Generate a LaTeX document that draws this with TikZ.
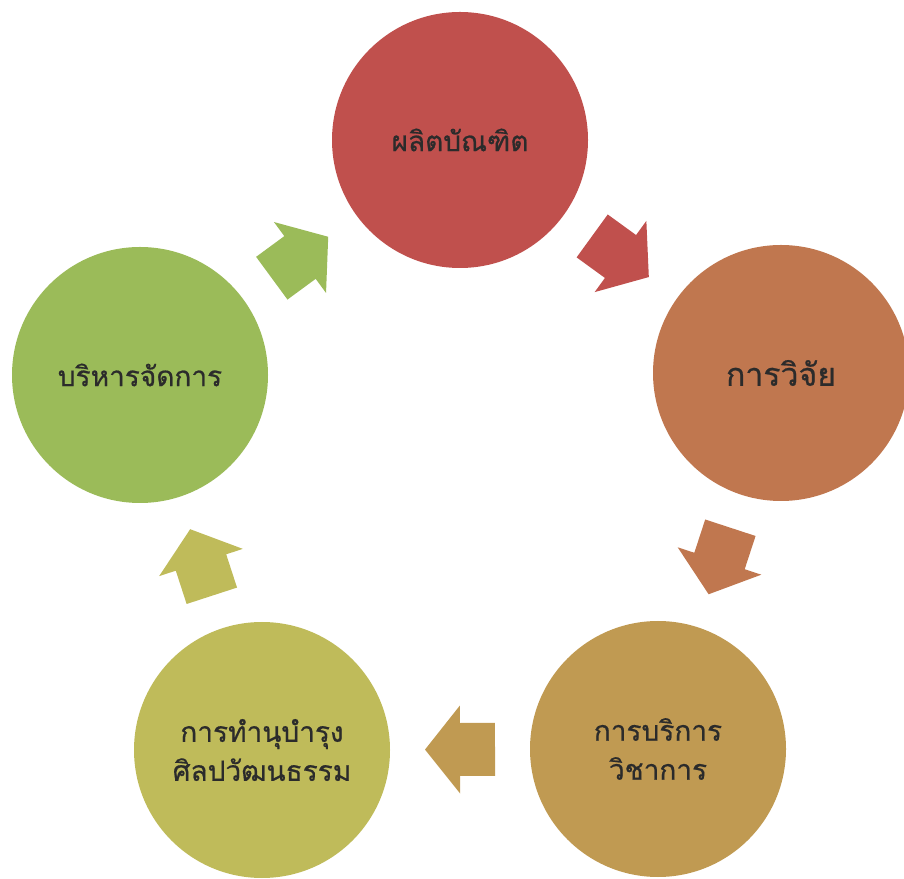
\documentclass[tikz,border=0pt]{standalone}
\usepackage{fontspec}
\newfontfamily\thaifont[Script=Thai,FakeBold=0.6]{Loma}
\usetikzlibrary{calc}
\definecolor{cRed}{HTML}{C0504D}
\definecolor{cOrange}{HTML}{C0774F}
\definecolor{cTan}{HTML}{C09A52}
\definecolor{cOlive}{HTML}{BFBB5A}
\definecolor{cGreen}{HTML}{9BBB59}
\definecolor{cText}{HTML}{2B2B2B}
\tikzset{
  x=1pt,y=1pt,
  bubble/.style={circle,minimum size=256pt,inner sep=0pt,draw=none,
    text=cText,align=center,font={\thaifont\fontsize{28}{39}\selectfont}},
  blockarrow/.style={draw=none}
}
\newcommand{\cycarrow}[3]{%
  \path let \p1=($(#2)-(#1)$), \n1={atan2(\y1,\x1)} in
    [shift={($(#1)!0.5!(#2)$)}, rotate=\n1]
    [fill=#3] (-35,-26.5) -- (0,-26.5) -- (0,-44) -- (35,0) -- (0,44) -- (0,26.5) -- (-35,26.5) -- cycle;%
}
\begin{document}
\begin{tikzpicture}
\useasboundingbox (0,0) rectangle (904,878);
\node[bubble,fill=cRed] (grad) at (460,738) {ผลิตบัณฑิต};
\node[bubble,fill=cOrange,font={\thaifont\fontsize{32}{39}\selectfont}] (res) at (781,505) {การวิจัย};
\node[bubble,fill=cTan] (serv) at (658,129) {การบริการ\\วิชาการ};
\node[bubble,fill=cOlive] (cult) at (262,128) {การทำนุบำรุง\\ศิลปวัฒนธรรม};
\node[bubble,fill=cGreen] (man) at (140,503) {บริหารจัดการ};
\cycarrow{grad}{res}{cRed}
\cycarrow{res}{serv}{cOrange}
\cycarrow{serv}{cult}{cTan}
\cycarrow{cult}{man}{cOlive}
\cycarrow{man}{grad}{cGreen}
\end{tikzpicture}
\end{document}
